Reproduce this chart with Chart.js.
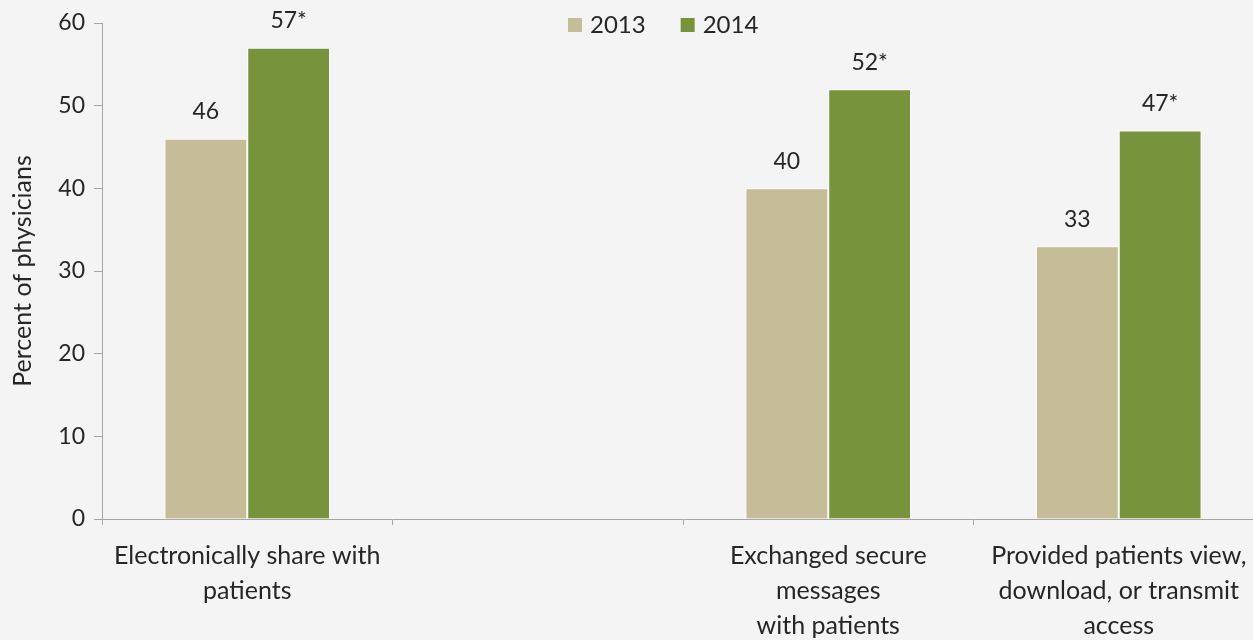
<!DOCTYPE html>
<html>
<head>
<meta charset="utf-8">
<script src="https://cdn.jsdelivr.net/npm/chart.js@4.4.0/dist/chart.umd.min.js"></script>
<style>
  html, body { margin: 0; padding: 0; background: #f4f4f4; overflow: hidden; }
  #wrap { width: 1268px; height: 640px; position: relative; }
</style>
</head>
<body>
<div id="wrap"><canvas id="physChart"></canvas></div>
<script>
// chart data
const categories = [
    ['Electronically share with', 'patients'],
    '',
    ['Exchanged secure', 'messages', 'with patients'],
    ['Provided patients view,', 'download, or transmit', 'access']
];
const values2013 = [46, null, 40, 33];
const values2014 = [57, null, 52, 47];
const labels2013 = ['46', '', '40', '33'];
const labels2014 = ['57*', '', '52*', '47*'];
const yTicks = [0, 10, 20, 30, 40, 50, 60];

const textColor = '#262626';
const fontFamily = 'Lato, "Open Sans", sans-serif';

// value labels over the bars
const barLabels = {
    id: 'barLabels',
    afterDatasetsDraw(chart) {
        const c = chart.ctx;
        const texts = [labels2013, labels2014];
        c.save();
        c.font = '23px ' + fontFamily;
        c.fillStyle = textColor;
        c.textAlign = 'center';
        c.textBaseline = 'middle';
        chart.data.datasets.forEach((ds, i) => {
            chart.getDatasetMeta(i).data.forEach((bar, j) => {
                if (ds.data[j] == null) return;
                c.fillText(texts[i][j], bar.x, bar.y - 27);
            });
        });
        c.restore();
    }
};

// legend sits inside the plot, top centre
const topLegend = {
    id: 'topLegend',
    afterDraw(chart) {
        const c = chart.ctx;
        c.save();
        c.font = '24px ' + fontFamily;
        c.textBaseline = 'middle';
        c.textAlign = 'left';
        let x = 568;
        const y = 25;
        chart.data.datasets.forEach(ds => {
            c.fillStyle = ds.backgroundColor;
            c.fillRect(x, y - 7, 14, 14);
            x += 22;
            c.fillStyle = textColor;
            c.fillText(ds.label, x, y);
            x += c.measureText(ds.label).width + 35;
        });
        c.restore();
    }
};

const ctx = document.getElementById('physChart').getContext('2d');
const physChart = new Chart(ctx, {
    type: 'bar',
    data: {
        labels: categories,
        datasets: [{
            label: '2013',
            data: values2013,
            backgroundColor: '#c4bd97',
            borderColor: '#ffffff',
            borderWidth: 1
        }, {
            label: '2014',
            data: values2014,
            backgroundColor: '#77933c',
            borderColor: '#ffffff',
            borderWidth: 1
        }]
    },
    options: {
        responsive: true,
        maintainAspectRatio: false,
        animation: false,
        layout: { padding: { top: 23, right: 4, left: 0, bottom: 0 } },
        datasets: {
            bar: { categoryPercentage: 0.57, barPercentage: 1.0 }
        },
        plugins: {
            legend: { display: false },
            tooltip: { enabled: false }
        },
        scales: {
            x: {
                grid: { drawOnChartArea: false, tickLength: 6, color: '#a6a6a6' },
                border: { color: '#a6a6a6' },
                ticks: {
                    color: textColor,
                    font: { family: fontFamily, size: 25, lineHeight: 1.4 },
                    padding: 13,
                    maxRotation: 0,
                    autoSkip: false
                },
                afterFit(scale) { scale.height = 121; }
            },
            y: {
                min: 0,
                max: 60,
                afterBuildTicks(scale) { scale.ticks = yTicks.map(v => ({ value: v })); },
                grid: { drawOnChartArea: false, tickLength: 8, color: '#a6a6a6' },
                border: { color: '#a6a6a6' },
                ticks: {
                    color: textColor,
                    font: { family: fontFamily, size: 23 },
                    padding: 9
                },
                title: {
                    display: true,
                    text: 'Percent of physicians',
                    color: textColor,
                    font: { family: fontFamily, size: 25 },
                    padding: { top: 8, bottom: 0 }
                },
                afterFit(scale) { scale.width = 102; }
            }
        }
    },
    plugins: [barLabels, topLegend]
});
</script>
</body>
</html>
